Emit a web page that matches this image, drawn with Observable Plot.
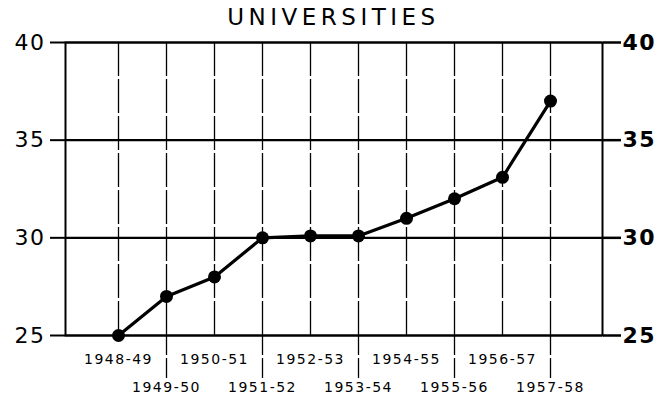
<!DOCTYPE html>
<html>
<head>
<meta charset="utf-8">
<script src="https://cdn.jsdelivr.net/npm/d3@7"></script>
<script src="https://cdn.jsdelivr.net/npm/@observablehq/plot@0.6"></script>
<style>
  html, body { margin: 0; padding: 0; background: #fff; }
  #title { width: 659px; height: 30px; line-height: 34px; text-align: center; padding-left: 8px; box-sizing: border-box;
    font-family: "DejaVu Sans", sans-serif; font-size: 23px; letter-spacing: 4.5px; color: #000; }
  svg text { letter-spacing: 1.5px; }
</style>
</head>
<body>
<div id="title">UNIVERSITIES</div>
<div id="chart"></div>
<script>
const years = ["1948-49","1949-50","1950-51","1951-52","1952-53","1953-54","1954-55","1955-56","1956-57","1957-58"];
const values = [25, 27, 28, 30, 30.1, 30.1, 31, 32, 33.1, 37];
const yTicks = [25, 30, 35, 40];
const upperRow = years.filter((d, i) => i % 2 === 0);
const lowerRow = years.filter((d, i) => i % 2 === 1);

const data = years.map((year, i) => ({year, value: values[i]}));

const chart = Plot.plot({
  width: 659,
  height: 373,
  marginLeft: 65,
  marginRight: 57,
  marginTop: 12,
  marginBottom: 68,
  style: {fontFamily: "DejaVu Sans, sans-serif", color: "#000", background: "#fff"},
  x: {type: "point", domain: years, padding: 1},
  y: {domain: [25, 40]},
  marks: [
    Plot.ruleX(years, {x: d => d, y1: 25, y2: 40, stroke: "#000", strokeWidth: 1.3, strokeDasharray: "34,3"}),
    Plot.ruleY(yTicks, {y: d => d, stroke: "#000", strokeWidth: 2.2}),
    Plot.frame({stroke: "#000", strokeWidth: 2}),
    Plot.axisY({anchor: "left", ticks: yTicks, tickSize: 15, tickPadding: 5, strokeWidth: 2, fontSize: 22, label: null, tickFormat: d => d}),
    Plot.axisY({anchor: "right", ticks: yTicks, tickSize: 18, tickPadding: 2, strokeWidth: 2.5, fontSize: 22, fontWeight: "bold", label: null, tickFormat: d => d}),
    Plot.axisX({ticks: upperRow, tickSize: 0, tickPadding: 19, fontSize: 14, label: null}),
    Plot.axisX({ticks: lowerRow, tickSize: 43, tickPadding: 4, strokeWidth: 1.3, strokeDasharray: "20,3", fontSize: 14, label: null}),
    Plot.line(data, {x: "year", y: "value", stroke: "#000", strokeWidth: 3.2}),
    Plot.dot(data, {x: "year", y: "value", r: 6.5, fill: "#000", stroke: "none"})
  ]
});
document.getElementById("chart").appendChild(chart);
</script>
</body>
</html>
